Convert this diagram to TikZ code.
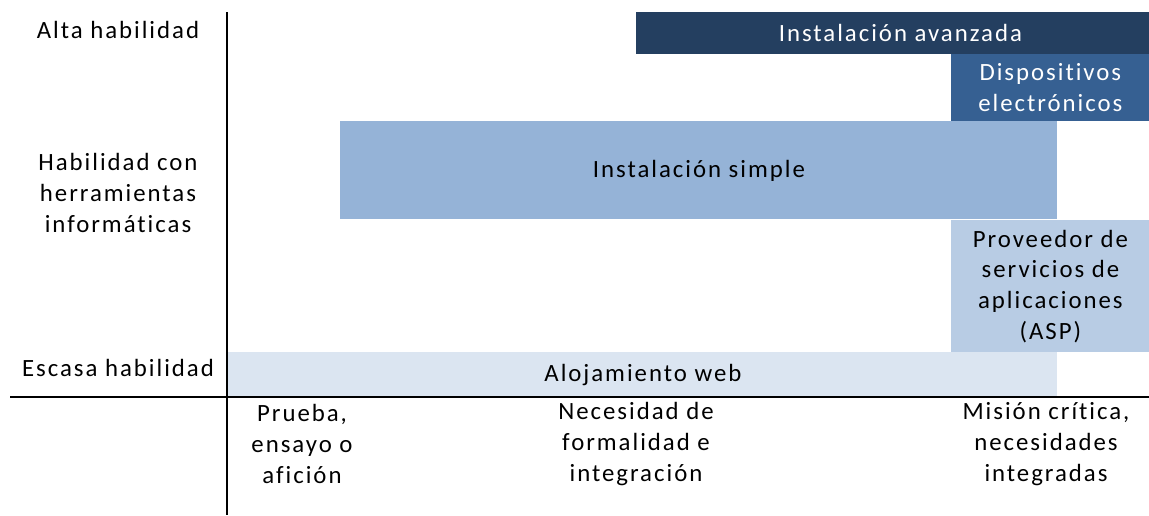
\documentclass[tikz,border=0pt]{standalone}
\usepackage{fontspec}
\setmainfont{Carlito}[LetterSpace=8,Ligatures={NoCommon}]
\usepackage{xcolor}
\usetikzlibrary{positioning}
\definecolor{nivelA}{HTML}{243F60}
\definecolor{nivelB}{HTML}{366092}
\definecolor{nivelC}{HTML}{95B3D7}
\definecolor{nivelD}{HTML}{B8CCE4}
\definecolor{nivelE}{HTML}{DBE5F1}
\tikzset{
  zona/.style={
    rectangle,
    anchor=north west,
    inner sep=0pt,
    align=center,
    font=\fontsize{12.4}{15.4}\selectfont,
  },
  rotulo/.style={
    align=center,
    inner sep=0pt,
    font=\fontsize{12.4}{15.4}\selectfont,
  },
  eje/.style={line width=1pt, black},
}

\begin{document}
\begin{tikzpicture}[x=0.5pt,y=-0.5pt]
  \useasboundingbox (0,0) rectangle (1149,515);

  % bloques
  \node[zona,fill=nivelA,text=white,minimum width=264pt,minimum height=21pt] (avanzada) at (636,12) {Instalación avanzada};
  \node[zona,fill=nivelB,text=white,minimum width=99pt,minimum height=33.5pt] (dispositivos) at (951,54) {Dispositivos\\electrónicos};
  \node[zona,fill=nivelC,minimum width=358.5pt,minimum height=49pt] (simple) at (340,121) {Instalación simple};
  \node[zona,fill=nivelD,minimum width=99pt,minimum height=66pt] (asp) at (951,220) {Proveedor de\\servicios de\\aplicaciones\\(ASP)};
  \node[zona,fill=nivelE,minimum width=414.5pt,minimum height=22.5pt] (web) at (228,352) {Alojamiento web};

  % ejes
  \coordinate (ejeTop) at (227,12);
  \coordinate (ejeBot) at (227,515);
  \coordinate (ejeIzq) at (10,397);
  \coordinate (ejeDer) at (1149,397);
  \draw[eje] (ejeTop) -- (ejeBot);
  \draw[eje] (ejeIzq) -- (ejeDer);

  % habilidad
  \node[rotulo] (alta) at (118,30) {Alta habilidad};
  \node[rotulo] (media) at (118,193) {Habilidad con\\herramientas\\informáticas};
  \node[rotulo] (escasa) at (118,368) {Escasa habilidad};

  % necesidad
  \node[rotulo] (prueba) at (302,444) {Prueba,\\ensayo o\\afición};
  \node[rotulo] (formal) at (636,444) {Necesidad de\\formalidad e\\integración};
  \node[rotulo] (critica) at (1046,444) {Misión crítica,\\necesidades\\integradas};
\end{tikzpicture}
\end{document}
